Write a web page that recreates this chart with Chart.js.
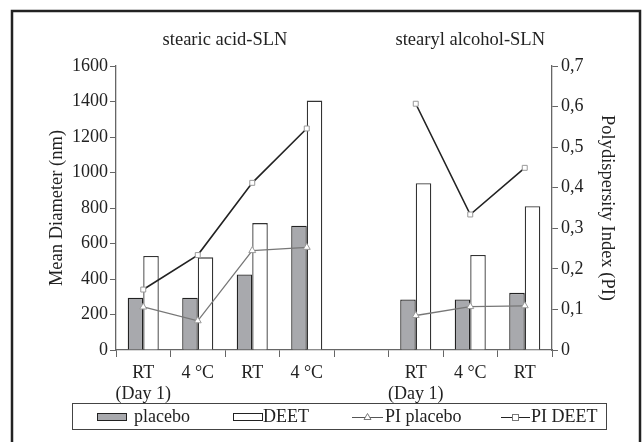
<!DOCTYPE html>
<html>
<head>
<meta charset="utf-8">
<script src="https://cdn.jsdelivr.net/npm/chart.js@4"></script>
<style>
  html, body { margin: 0; padding: 0; background: #fff; }
  #wrap { width: 642px; height: 442px; }
</style>
</head>
<body>
<div id="wrap"><canvas id="sizeChart" width="642" height="442"></canvas></div>
<script>
// categories: 4 stearic acid samples, a gap, 3 stearyl alcohol samples
const labels = [['RT', '(Day 1)'], '4 °C', 'RT', '4 °C', '', ['RT', '(Day 1)'], '4 °C', 'RT'];
const placebo = [295, 295, 425, 700, null, 285, 285, 322];
const deet = [530, 522, 715, 1405, null, 940, 535, 810];
const piPlacebo = [0.106, 0.072, 0.245, 0.253, null, 0.085, 0.107, 0.109];
const piDeet = [0.149, 0.234, 0.412, 0.546, null, 0.607, 0.334, 0.449];
const groupTitles = ['stearic acid-SLN', 'stearyl alcohol-SLN'];
const groupSpans = [[0, 3], [5, 7]];

const SERIF = '"Liberation Serif", "DejaVu Serif", serif';

const decor = {
  id: 'decor',
  afterDraw(chart) {
    const c = chart.ctx;
    const x = chart.scales.x;
    c.save();
    // outer frame
    c.strokeStyle = '#222';
    c.lineWidth = 2.5;
    c.strokeRect(12, 11, 628, 440);

    // group titles
    c.fillStyle = '#222';
    c.font = '18.5px ' + SERIF;
    c.textAlign = 'center';
    c.textBaseline = 'alphabetic';
    groupTitles.forEach((t, i) => {
      const [a, b] = groupSpans[i];
      const cx = (x.getPixelForValue(a) + x.getPixelForValue(b)) / 2;
      c.fillText(t, cx, 45);
    });

    // legend
    c.lineWidth = 1;
    c.strokeStyle = '#444';
    c.strokeRect(72.5, 403.5, 534, 26);
    c.textAlign = 'left';
    c.font = '18px ' + SERIF;
    const ty = 422;
    // placebo
    c.fillStyle = '#a8a9ad';
    c.fillRect(97, 413, 29, 7);
    c.strokeStyle = '#222';
    c.strokeRect(97.5, 413.5, 29, 7);
    c.fillStyle = '#222';
    c.fillText('placebo', 134, ty);
    // DEET
    c.fillStyle = '#fff';
    c.strokeRect(233.5, 413.5, 29, 7);
    c.fillStyle = '#222';
    c.fillText('DEET', 263, ty);
    // PI placebo
    c.strokeStyle = '#555';
    c.beginPath(); c.moveTo(352, 417.5); c.lineTo(383, 417.5); c.stroke();
    c.fillStyle = '#fff';
    c.strokeStyle = '#777';
    c.beginPath(); c.moveTo(367.5, 413.5); c.lineTo(371, 419.5); c.lineTo(364, 419.5); c.closePath();
    c.fill(); c.stroke();
    c.fillStyle = '#222';
    c.fillText('PI placebo', 385, ty);
    // PI DEET
    c.strokeStyle = '#222';
    c.beginPath(); c.moveTo(501, 417.5); c.lineTo(530, 417.5); c.stroke();
    c.fillStyle = '#fff';
    c.strokeStyle = '#777';
    c.fillRect(512, 414.5, 6, 6);
    c.strokeRect(512.5, 414.5, 6, 6);
    c.fillStyle = '#222';
    c.fillText('PI DEET', 531, ty);
    c.restore();
  }
};

new Chart(document.getElementById('sizeChart'), {
  type: 'bar',
  data: {
    labels: labels,
    datasets: [
      {
        type: 'line', label: 'PI DEET', data: piDeet, yAxisID: 'y1', order: 0,
        borderColor: '#222', borderWidth: 1.6, spanGaps: false,
        pointStyle: 'rect', pointRadius: 3.5, pointBorderColor: '#999',
        pointBackgroundColor: '#fff', pointBorderWidth: 1
      },
      {
        type: 'line', label: 'PI placebo', data: piPlacebo, yAxisID: 'y1', order: 0,
        borderColor: '#777', borderWidth: 1.3, spanGaps: false,
        pointStyle: 'triangle', pointRadius: 4, pointBorderColor: '#999',
        pointBackgroundColor: '#fff', pointBorderWidth: 1
      },
      {
        label: 'placebo', data: placebo, yAxisID: 'y', order: 1,
        backgroundColor: '#a8a9ad', borderColor: '#222', borderWidth: 1.3,
        barPercentage: 1, categoryPercentage: 0.57
      },
      {
        label: 'DEET', data: deet, yAxisID: 'y', order: 1,
        backgroundColor: '#fff', borderColor: '#333', borderWidth: 1.3,
        barPercentage: 1, categoryPercentage: 0.57
      }
    ]
  },
  options: {
    responsive: false,
    animation: false,
    layout: { padding: { left: 46, right: 24, top: 66, bottom: 39 } },
    plugins: {
      legend: { display: false },
      tooltip: { enabled: false }
    },
    scales: {
      x: {
        offset: true,
        grid: { display: true, drawOnChartArea: false, offset: true, tickLength: 7, color: '#666', tickWidth: 1 },
        border: { color: '#666', width: 1.3 },
        ticks: { color: '#222', font: { family: SERIF, size: 18, lineHeight: 1.2 }, padding: 5, maxRotation: 0, autoSkip: false },
        afterFit(s) { s.height = 53; }
      },
      y: {
        position: 'left', min: 0, max: 1600,
        ticks: { stepSize: 200, color: '#222', font: { family: SERIF, size: 18 }, padding: 2, callback: v => String(v) },
        grid: { drawOnChartArea: false, tickLength: 6, color: '#666' },
        border: { color: '#666', width: 1.3 },
        title: { display: true, text: 'Mean Diameter (nm)', color: '#222', font: { family: SERIF, size: 18.5 }, padding: 0 },
        afterFit(s) { s.width = 70; }
      },
      y1: {
        position: 'right', min: 0, max: 0.7,
        ticks: {
          stepSize: 0.1, color: '#222', font: { family: SERIF, size: 18 }, padding: 3,
          callback: v => v === 0 ? '0' : v.toFixed(1).replace('.', ',')
        },
        grid: { drawOnChartArea: false, tickLength: 6, color: '#666' },
        border: { color: '#666', width: 1.3 },
        title: { display: true, text: 'Polydispersity Index (PI)', color: '#222', font: { family: SERIF, size: 18.5 }, padding: 0 },
        afterFit(s) { s.width = 66; }
      }
    }
  },
  plugins: [decor]
});
</script>
</body>
</html>
